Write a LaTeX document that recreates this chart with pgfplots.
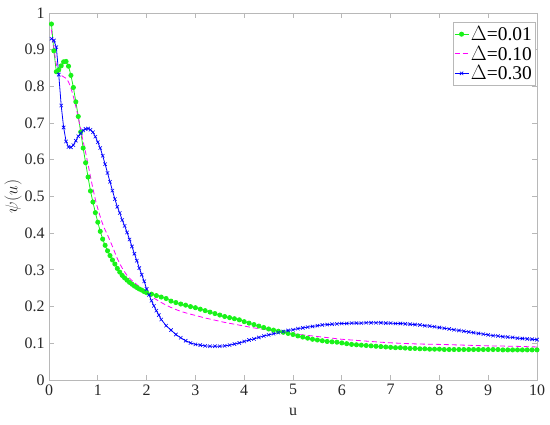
\documentclass[border=0pt]{standalone}
\usepackage{fontspec}
\setmainfont{Liberation Serif}
\usepackage{pgfplots}
\usepackage{pgfplotstable}
\pgfplotsset{compat=1.18}
\definecolor{mygreen}{rgb}{0.1,0.95,0.1}
\definecolor{mymag}{rgb}{1,0,1}
\definecolor{myblue}{rgb}{0,0,1}
\definecolor{axgray}{rgb}{0.72,0.72,0.72}
\newcommand{\tickfont}{\fontsize{16}{18}\selectfont}

\pgfplotstableread{
u v
0.05 0.970
0.10 0.897
0.15 0.840
0.20 0.845
0.25 0.856
0.30 0.867
0.35 0.868
0.40 0.855
0.45 0.830
0.50 0.797
0.55 0.758
0.60 0.718
0.65 0.676
0.70 0.632
0.75 0.592
0.80 0.553
0.85 0.515
0.90 0.485
0.95 0.456
1.00 0.430
1.05 0.405
1.10 0.384
1.15 0.367
1.20 0.352
1.25 0.339
1.30 0.327
1.35 0.316
1.40 0.304
1.45 0.294
1.50 0.285
1.55 0.278
1.60 0.272
1.65 0.266
1.70 0.261
1.75 0.256
1.80 0.252
1.85 0.248
1.90 0.245
1.95 0.241
2.00 0.238
2.1 0.234
2.2 0.230
2.3 0.226
2.4 0.222
2.5 0.215
2.6 0.211
2.7 0.207
2.8 0.204
2.9 0.200
3.0 0.197
3.1 0.193
3.2 0.189
3.3 0.185
3.4 0.181
3.5 0.177
3.6 0.173
3.7 0.170
3.8 0.167
3.9 0.164
4.0 0.159
4.1 0.155
4.2 0.151
4.3 0.147
4.4 0.143
4.5 0.139
4.6 0.136
4.7 0.133
4.8 0.130
4.9 0.127
5.0 0.124
5.1 0.120
5.2 0.117
5.3 0.114
5.4 0.111
5.5 0.109
5.6 0.107
5.7 0.105
5.8 0.104
5.9 0.103
6.0 0.101
6.1 0.099
6.2 0.097
6.3 0.096
6.4 0.095
6.5 0.094
6.6 0.093
6.7 0.092
6.8 0.091
6.9 0.090
7.0 0.089
7.1 0.088
7.2 0.088
7.3 0.087
7.4 0.086
7.5 0.086
7.6 0.085
7.7 0.085
7.8 0.084
7.9 0.084
8.0 0.084
8.1 0.083
8.2 0.083
8.3 0.083
8.4 0.083
8.5 0.083
8.6 0.083
8.7 0.083
8.8 0.083
8.9 0.083
9.0 0.083
9.1 0.083
9.2 0.083
9.3 0.082
9.4 0.082
9.5 0.082
9.6 0.082
9.7 0.082
9.8 0.082
9.9 0.082
10.0 0.082
}\greentab

\pgfplotstableread{
u v
0.05 0.955
0.10 0.905
0.15 0.860
0.20 0.838
0.25 0.830
0.30 0.826
0.35 0.822
0.40 0.812
0.45 0.795
0.50 0.772
0.55 0.745
0.60 0.715
0.65 0.682
0.70 0.650
0.75 0.620
0.80 0.588
0.85 0.554
0.90 0.522
0.95 0.492
1.00 0.467
1.05 0.445
1.10 0.425
1.15 0.409
1.20 0.395
1.30 0.364
1.40 0.331
1.50 0.305
1.60 0.285
1.70 0.271
1.80 0.260
1.90 0.249
2.00 0.238
2.10 0.228
2.20 0.219
2.40 0.204
2.60 0.192
2.80 0.183
3.00 0.176
3.20 0.169
3.40 0.163
3.60 0.157
3.80 0.152
4.00 0.147
4.20 0.142
4.40 0.138
4.60 0.134
4.80 0.130
5.00 0.126
5.20 0.123
5.40 0.120
5.60 0.117
5.80 0.114
6.00 0.111
6.40 0.107
6.80 0.103
7.20 0.100
7.60 0.098
8.00 0.097
8.50 0.095
9.00 0.093
9.50 0.092
10.00 0.090
}\magtab

\pgfplotstableread{
u v
0.05 0.930
0.10 0.925
0.15 0.907
0.20 0.832
0.25 0.748
0.30 0.688
0.35 0.650
0.40 0.635
0.45 0.634
0.50 0.640
0.55 0.652
0.60 0.664
0.65 0.672
0.70 0.680
0.75 0.684
0.80 0.685
0.85 0.682
0.90 0.675
0.95 0.663
1.00 0.648
1.05 0.632
1.10 0.611
1.15 0.588
1.20 0.564
1.25 0.540
1.30 0.516
1.35 0.493
1.40 0.472
1.45 0.455
1.50 0.436
1.55 0.420
1.60 0.402
1.65 0.383
1.70 0.364
1.75 0.344
1.80 0.325
1.85 0.305
1.90 0.287
1.95 0.269
2.00 0.248
2.05 0.232
2.10 0.216
2.15 0.202
2.20 0.189
2.25 0.177
2.30 0.165
2.4 0.148
2.5 0.136
2.6 0.124
2.7 0.115
2.8 0.107
2.9 0.101
3.0 0.097
3.1 0.095
3.2 0.093
3.3 0.092
3.4 0.092
3.5 0.092
3.6 0.093
3.7 0.095
3.8 0.098
3.9 0.101
4.0 0.105
4.1 0.109
4.2 0.112
4.3 0.116
4.4 0.120
4.5 0.123
4.6 0.126
4.7 0.129
4.8 0.132
4.9 0.135
5.0 0.137
5.1 0.140
5.2 0.142
5.3 0.144
5.4 0.146
5.5 0.148
5.6 0.150
5.7 0.151
5.8 0.152
5.9 0.153
6.0 0.154
6.1 0.154
6.2 0.155
6.3 0.155
6.4 0.155
6.5 0.156
6.6 0.156
6.7 0.156
6.8 0.156
6.9 0.155
7.0 0.155
7.1 0.154
7.2 0.154
7.3 0.153
7.4 0.152
7.5 0.151
7.6 0.150
7.7 0.148
7.8 0.147
7.9 0.145
8.0 0.143
8.1 0.141
8.2 0.139
8.3 0.137
8.4 0.135
8.5 0.133
8.6 0.131
8.7 0.129
8.8 0.127
8.9 0.125
9.0 0.123
9.1 0.121
9.2 0.120
9.3 0.118
9.4 0.117
9.5 0.116
9.6 0.114
9.7 0.113
9.8 0.112
9.9 0.111
10.0 0.110
}\bluetab

\begin{document}
\begin{tikzpicture}
\begin{axis}[
  scale only axis,
  width=488bp, height=367bp,
  xmin=0, xmax=10, ymin=0, ymax=1,
  xtick={0,1,...,10},
  ytick={0,0.1,...,1},
  xticklabel={\tickfont\pgfmathprintnumber[assume math mode=true]{\tick}},
  yticklabel={\tickfont\pgfmathprintnumber[assume math mode=true,fixed,precision=1]{\tick}},
  scaled y ticks=false,
  axis line style={axgray, line width=0.8bp},
  tick style={axgray, line width=0.8bp},
  tick align=inside,
  major tick length=5bp,
  ticklabel style={text=black!85},
  xticklabel style={yshift=-1bp},
  yticklabel style={xshift=-1bp},
  xlabel={\tickfont u},
  ylabel={\tickfont$\psi(u)$},
  label style={text=black!85},
  xlabel style={yshift=-6bp},
  ylabel style={yshift=-4bp},
  legend style={at={(0.996,0.975)}, anchor=north east, draw=axgray,
    font=\fontsize{19.5}{23}\selectfont, inner xsep=1bp, inner ysep=2bp,
    row sep=0bp, cells={anchor=west}},
  legend image code/.code={\draw[mark repeat=2,mark phase=2] plot coordinates {(0bp,0bp) (7bp,0bp) (14bp,0bp)};},
  clip=false,
]
\addplot[mygreen, line width=0.8bp, mark=*, mark size=2.1bp, mark options={fill=mygreen, draw=mygreen}] table[x=u,y=v] {\greentab};
\addlegendentry{$\Delta$=0.01}
\addplot[mymag, line width=0.8bp, dashed, dash pattern=on 5bp off 3bp, smooth] table[x=u,y=v] {\magtab};
\addlegendentry{$\Delta$=0.10}
\addplot[myblue, line width=0.8bp, mark=x, mark size=2.4bp, mark options={solid, line width=0.6bp}] table[x=u,y=v] {\bluetab};
\addlegendentry{$\Delta$=0.30}
\end{axis}
\pgfresetboundingbox
\path ([shift={(-49bp,-45bp)}]current axis.south west) rectangle ([shift={(13bp,13bp)}]current axis.north east);
\end{tikzpicture}
\end{document}
